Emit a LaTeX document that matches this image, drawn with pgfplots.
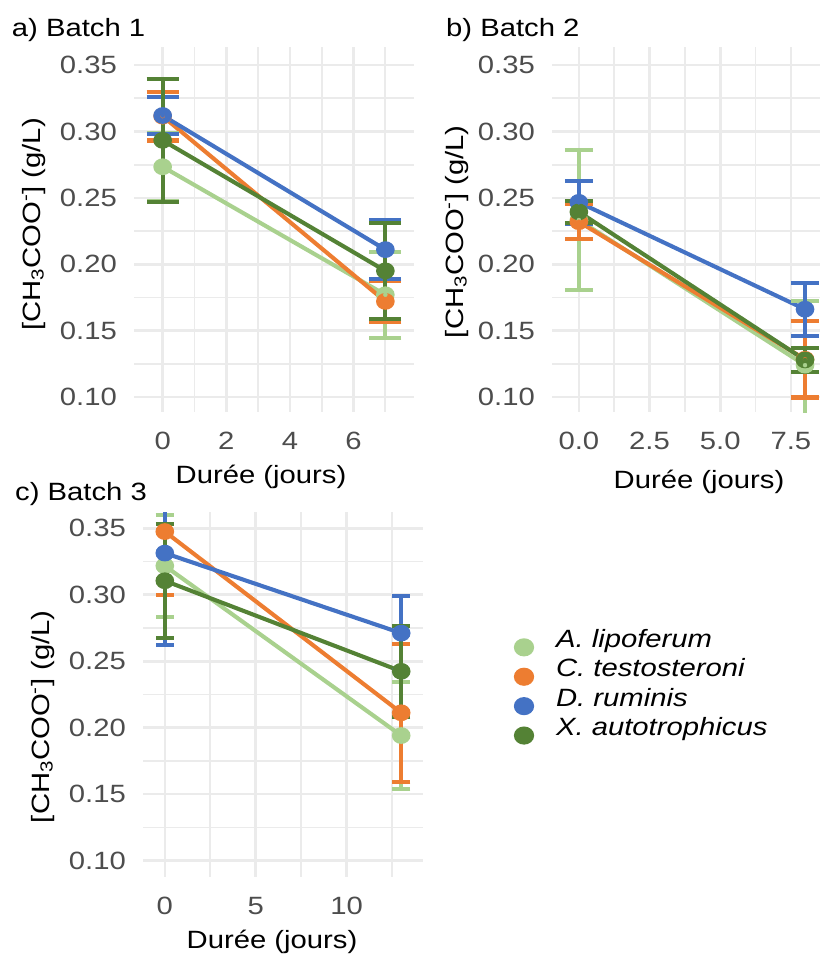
\documentclass[border=0pt]{standalone}
\usepackage{fontspec}
\setmainfont{Liberation Sans}[FakeStretch=1.17]
\usepackage{pgfplots}
\pgfplotsset{compat=1.18}
\usepackage{pgfplotstable}

\definecolor{cA}{HTML}{A9D18E}
\definecolor{cC}{HTML}{ED7D31}
\definecolor{cD}{HTML}{4472C4}
\definecolor{cX}{HTML}{548235}
\definecolor{gridc}{HTML}{EBEBEB}
\definecolor{tickc}{HTML}{4D4D4D}

\pgfplotstableread{
x A Ae C Ce D De X Xe
0 0.2734 0.0255 0.3115 0.0183 0.3120 0.0142 0.2933 0.0463
7 0.1770 0.0325 0.1720 0.0155 0.2110 0.0222 0.1950 0.0360
}\batchA
\pgfplotstableread{
x A Ae C Ce D De X Xe
0 0.2333 0.0527 0.2320 0.0133 0.2466 0.0163 0.2394 0.0082
8 0.1240 0.0485 0.1284 0.0288 0.1661 0.0200 0.1279 0.0088
}\batchB
\pgfplotstableread{
x A Ae C Ce D De X Xe
0 0.3217 0.0384 0.3475 0.0475 0.3313 0.0690 0.3105 0.0430
13 0.1941 0.0404 0.2112 0.0520 0.2711 0.0281 0.2424 0.0344
}\batchC

\newcommand{\fnt}{\fontsize{25bp}{30bp}\selectfont}

\pgfplotsset{
  panel/.style={
    scale only axis, height=365bp, anchor=north west,
    axis line style={draw=none}, major tick length=0pt, minor tick length=0pt,
    grid=both,
    major grid style={gridc, line width=2.6bp},
    minor grid style={gridc, line width=1.8bp},
    ymin=0.0887, ymax=0.3636,
    ytick={0.10,0.15,0.20,0.25,0.30,0.35},
    minor ytick={0.125,0.175,0.225,0.275,0.325},
    /pgf/number format/assume math mode=true,
    tick label style={font=\fnt, text=tickc},
    yticklabel style={/pgf/number format/.cd, fixed, fixed zerofill, precision=2, /tikz/.cd, anchor=east, inner sep=0pt, xshift=-17bp},
    xticklabel style={anchor=north, inner sep=0pt, yshift=-20bp},
    clip=true,
  },
  ln/.style={color=#1, line width=4.1bp, mark=*, mark size=6.3bp, mark options={draw=none, fill=#1, xscale=1.15}},
  eb/.style n args={2}{forget plot, color=#1, only marks, mark=none,
    error bars/.cd, y dir=both, y explicit, error mark=|,
    error bar style={line width=4.1bp, color=#1},
    error mark options={line width=4.1bp, color=#1, mark size=#2},
    /pgfplots/.cd},
}

\begin{document}
\fnt
\begin{tikzpicture}
\useasboundingbox (0,0) rectangle (820bp,-956bp);

% ---------- panel a ----------
\begin{axis}[panel, at={(134bp,-47bp)}, width=280bp,
  xmin=-0.9, xmax=7.9, xtick={0,2,4,6}, minor xtick={1,3,5,7}]
\addplot[ln=cA] table[x=x, y=A] {\batchA};
\addplot[ln=cC] table[x=x, y=C] {\batchA};
\addplot[ln=cD] table[x=x, y=D] {\batchA};
\addplot[ln=cX] table[x=x, y=X] {\batchA};
\addplot[eb={cA}{15.9bp}] table[x=x, y=A, y error=Ae] {\batchA};
\addplot[eb={cC}{15.9bp}] table[x=x, y=C, y error=Ce] {\batchA};
\addplot[eb={cD}{15.9bp}] table[x=x, y=D, y error=De] {\batchA};
\addplot[eb={cX}{15.9bp}] table[x=x, y=X, y error=Xe] {\batchA};
\end{axis}

% ---------- panel b ----------
\begin{axis}[panel, at={(552bp,-47bp)}, width=268bp,
  xmin=-0.95, xmax=8.53, xtick={0,2.5,5,7.5}, minor xtick={1.25,3.75,6.25},
  xticklabel style={/pgf/number format/.cd, fixed, fixed zerofill, precision=1}]
\addplot[ln=cA] table[x=x, y=A] {\batchB};
\addplot[ln=cC] table[x=x, y=C] {\batchB};
\addplot[ln=cD] table[x=x, y=D] {\batchB};
\addplot[ln=cX] table[x=x, y=X] {\batchB};
\addplot[eb={cA}{14.1bp}] table[x=x, y=A, y error=Ae] {\batchB};
\addplot[eb={cC}{14.1bp}] table[x=x, y=C, y error=Ce] {\batchB};
\addplot[eb={cD}{14.1bp}] table[x=x, y=D, y error=De] {\batchB};
\addplot[eb={cX}{14.1bp}] table[x=x, y=X, y error=Xe] {\batchB};
\end{axis}

% ---------- panel c ----------
\begin{axis}[panel, at={(143bp,-512bp)}, width=280bp,
  ymin=0.0877, ymax=0.3622,
  xmin=-1.2, xmax=14.2, xtick={0,5,10}, minor xtick={2.5,7.5,12.5},
  legend style={draw=none, fill=none, at={(axis description cs:1.332,0.684)},
    anchor=north west, inner sep=0pt, outer sep=0pt, row sep=0.6bp, column sep=24bp,
    font=\fnt\itshape,
    nodes={inner sep=0pt, text height=20bp, text depth=8.8bp, anchor=base west}},
  legend cell align=left,
  legend image code/.code={\draw[mark=*, mark size=7bp, mark options={xscale=1.15, draw=none}] plot coordinates {(0bp,0bp)};}]
\addplot[ln=cA] table[x=x, y=A] {\batchC};
\addlegendentry{A. lipoferum}
\addplot[ln=cC] table[x=x, y=C] {\batchC};
\addlegendentry{C. testosteroni}
\addplot[ln=cD] table[x=x, y=D] {\batchC};
\addlegendentry{D. ruminis}
\addplot[ln=cX] table[x=x, y=X] {\batchC};
\addlegendentry{X. autotrophicus}
\addplot[eb={cA}{9.1bp}] table[x=x, y=A, y error=Ae] {\batchC};
\addplot[eb={cC}{9.1bp}] table[x=x, y=C, y error=Ce] {\batchC};
\addplot[eb={cD}{9.1bp}] table[x=x, y=D, y error=De] {\batchC};
\addplot[eb={cX}{9.1bp}] table[x=x, y=X, y error=Xe] {\batchC};
\end{axis}

% ---------- titles and axis titles ----------
\node[anchor=base west, inner sep=0pt] at (11.7bp,-36bp) {a) Batch 1};
\node[anchor=base west, inner sep=0pt] at (446bp,-36bp) {b) Batch 2};
\node[anchor=base west, inner sep=0pt] at (15bp,-500bp) {c) Batch 3};

\node[anchor=base, inner sep=0pt] at (261bp,-483bp) {Durée (jours)};
\node[anchor=base, inner sep=0pt] at (699bp,-488bp) {Durée (jours)};
\node[anchor=base, inner sep=0pt] at (272bp,-948bp) {Durée (jours)};

\node[rotate=90, anchor=base, inner sep=0pt] at (40bp,-224.5bp) {[CH\textsubscript{3}COO\textsuperscript{-}] (g/L)};
\node[rotate=90, anchor=base, inner sep=0pt] at (463bp,-231.7bp) {[CH\textsubscript{3}COO\textsuperscript{-}] (g/L)};
\node[rotate=90, anchor=base, inner sep=0pt] at (49bp,-716.7bp) {[CH\textsubscript{3}COO\textsuperscript{-}] (g/L)};
\end{tikzpicture}
\end{document}
